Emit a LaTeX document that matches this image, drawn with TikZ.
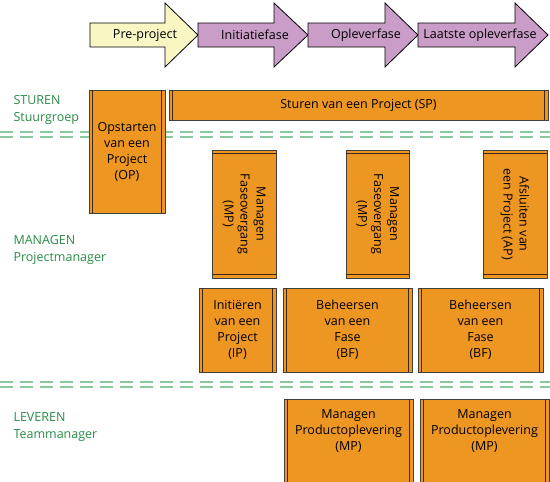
\documentclass[tikz,border=0pt]{standalone}
\usepackage{fontspec}
\setmainfont{Open Sans}
\usetikzlibrary{calc}

\definecolor{phaseyellow}{RGB}{248,247,196}
\definecolor{phasepurple}{RGB}{201,157,200}
\definecolor{procorange}{RGB}{238,150,34}
\definecolor{procedge}{RGB}{64,64,64}
\definecolor{procbar}{RGB}{58,40,20}
\definecolor{layertext}{RGB}{40,140,70}
\definecolor{layerline}{RGB}{140,200,158}

% the two inner bars of a process box
\newcommand{\procbars}[1]{%
  \draw[procbar,line width=1.3pt] ($(#1.north west)!4pt!(#1.north east)$) -- ($(#1.south west)!4pt!(#1.south east)$);
  \draw[procbar,line width=1.3pt] ($(#1.north east)!4pt!(#1.north west)$) -- ($(#1.south east)!4pt!(#1.south west)$);
}

\begin{document}
\begin{tikzpicture}[x=1pt,y=-1pt,
  proc/.style={draw=procedge,line width=0.9pt,fill=procorange,align=center,inner sep=2pt,
    font=\fontsize{12.5}{16}\selectfont},
  proclabel/.style={anchor=north,yshift=-7pt,align=center,font=\fontsize{12.5}{16}\selectfont},
  phaselabel/.style={font=\fontsize{12.5}{14}\selectfont},
  layer/.style={anchor=west,align=left,text=layertext,font=\fontsize{12.5}{17}\selectfont}]

\useasboundingbox (0,0) rectangle (550,482);

% layer borders
\foreach \y in {132,137,382,387}
  \draw[layerline,line width=1.1pt,dash pattern=on 13pt off 7pt] (0,\y) -- (550,\y);

% phases
\foreach \xs/\xh/\xt/\col/\txt/\xl [count=\i] in
  {90/165/198/phaseyellow/Pre-project/145,
   198/274/308/phasepurple/Initiatiefase/255,
   308/385/418/phasepurple/Opleverfase/366,
   418/515/548/phasepurple/Laatste opleverfase/480}
{
  \draw[fill=\col,line width=0.8pt] (\xs,23) -- (\xh,23) -- (\xh,3) -- (\xt,35)
    -- (\xh,67) -- (\xh,47) -- (\xs,47) -- cycle;
  \node[phaselabel] (phase\i) at (\xl,35) {\txt};
}

% layers
\node[layer] (sturen) at (10,110) {STUREN\\Stuurgroep};
\node[layer] (managen) at (10,250) {MANAGEN\\Projectmanager};
\node[layer] (leveren) at (10,427) {LEVEREN\\Teammanager};

% processes
\node[proc,minimum width=379pt,minimum height=30pt] (sp) at (358.5,105) {Sturen van een Project (SP)};
\node[proc,minimum width=76pt,minimum height=123pt] (op) at (127,151.5) {Opstarten\\van een\\Project\\(OP)};

\node[proc,rotate=-90,minimum width=128pt,minimum height=64pt] (mpa) at (244,214) {Managen\\Faseovergang\\(MP)};
\node[proc,rotate=-90,minimum width=128pt,minimum height=63pt] (mpb) at (377.5,214) {Managen\\Faseovergang\\(MP)};
\node[proc,rotate=-90,minimum width=128pt,minimum height=64pt] (ap) at (515,214) {Afsluiten van\\een Project (AP)};

\node[proc,minimum width=77pt,minimum height=84pt] (ip) at (237.5,330) {Initiëren\\van een\\Project\\(IP)};
\node[proc,minimum width=129pt,minimum height=84pt] (bfa) at (347.5,330) {Beheersen\\van een\\Fase\\(BF)};
\node[proc,minimum width=125pt,minimum height=84pt] (bfb) at (480.5,330) {Beheersen\\van een\\Fase\\(BF)};

\node[proc,minimum width=129pt,minimum height=91pt,
  label={[proclabel,name=mppa]north:Managen\\Productoplevering\\(MP)}] (mpla) at (348.5,444.5) {};
\node[proc,minimum width=129pt,minimum height=91pt,
  label={[proclabel,name=mppb]north:Managen\\Productoplevering\\(MP)}] (mplb) at (484.5,444.5) {};

\foreach \n in {sp,op,mpa,mpb,ap,ip,bfa,bfb,mpla,mplb}
{
  \procbars{\n}
}

\end{tikzpicture}
\end{document}
